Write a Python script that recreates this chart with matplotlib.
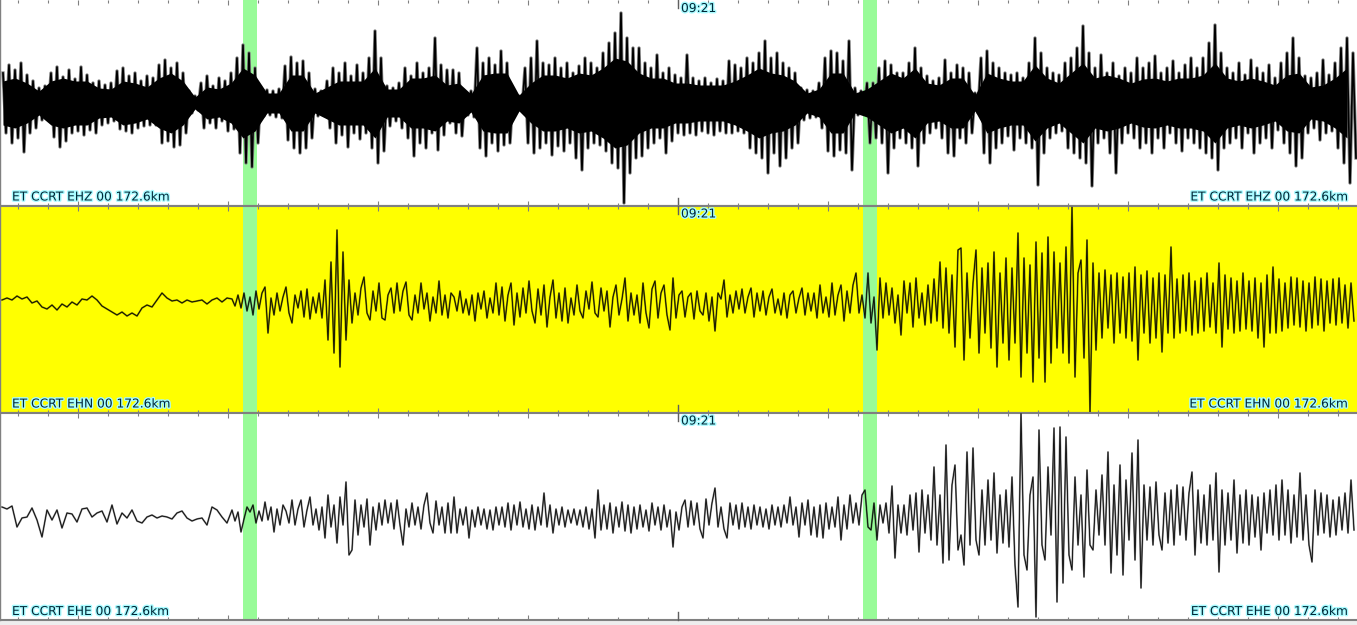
import numpy as np
import matplotlib
matplotlib.use("Agg")
import matplotlib.pyplot as plt
import matplotlib.patheffects as pe

# station / channel labels
station = "ET CCRT {} 00 172.6km"
channels = ["EHZ", "EHN", "EHE"]
minute_label = "09:21"

# pick windows, seconds after 09:21:00
picks = [(-14.5, -14.03), (6.17, 6.63)]

# EHZ: upper and lower peak excursions, one pair every 0.2 s starting at -22.5 s
ehz_hi = [30, 38, 33, 40, 28, 22, 15, 17, 30, 36, 26, 33, 24, 36, 28, 20, 22, 18, 20, 32, 35, 27, 30, 22, 27,
          25, 38, 43, 35, 40, 30, 12, 7, 20, 27, 17, 25, 22, 30, 45, 58, 50, 35, 15, 13, 12, 14, 37, 46, 40,
          42, 30, 14, 12, 22, 35, 30, 40, 27, 38, 30, 45, 72, 45, 17, 15, 20, 35, 27, 40, 30, 35, 65, 38, 33,
          33, 30, 10, 12, 55, 40, 45, 38, 52, 40, 8, 7, 35, 45, 62, 40, 38, 45, 35, 40, 30, 37, 45, 40, 35,
          50, 60, 70, 90, 65, 55, 55, 40, 35, 48, 30, 35, 28, 25, 48, 25, 22, 25, 20, 24, 22, 42, 38, 35, 45,
          40, 50, 62, 45, 50, 40, 35, 30, 15, 13, 12, 20, 45, 52, 50, 42, 62, 15, 12, 20, 20, 35, 42, 38, 30,
          30, 40, 55, 35, 27, 22, 25, 43, 30, 38, 35, 30, 10, 45, 52, 40, 35, 30, 28, 30, 25, 40, 65, 50, 35,
          30, 28, 40, 45, 55, 77, 50, 35, 48, 30, 40, 27, 35, 30, 45, 35, 40, 47, 30, 35, 42, 30, 38, 45, 35,
          45, 60, 78, 50, 35, 30, 40, 28, 43, 35, 30, 38, 25, 40, 50, 65, 45, 27, 25, 30, 43, 28, 40, 55, 65,
          50]
ehz_lo = [30, 40, 35, 49, 30, 25, 17, 15, 34, 44, 38, 30, 28, 32, 27, 30, 22, 20, 18, 26, 28, 30, 25, 23, 22,
          22, 40, 38, 44, 42, 30, 10, 7, 25, 20, 25, 18, 28, 26, 50, 60, 64, 40, 13, 12, 14, 15, 37, 45, 50,
          45, 35, 13, 12, 25, 40, 32, 44, 30, 36, 30, 45, 60, 48, 23, 18, 25, 35, 53, 40, 45, 30, 47, 32, 20,
          30, 33, 12, 14, 45, 53, 40, 48, 42, 40, 8, 7, 40, 50, 45, 40, 52, 43, 48, 40, 55, 67, 45, 40, 42,
          48, 60, 65, 100, 70, 55, 53, 45, 40, 35, 50, 38, 30, 32, 30, 32, 28, 30, 32, 28, 30, 30, 28, 30, 45,
          50, 55, 70, 50, 63, 55, 45, 40, 17, 15, 14, 25, 48, 53, 47, 50, 67, 12, 10, 40, 35, 40, 70, 45, 35,
          40, 45, 63, 40, 30, 25, 35, 50, 53, 35, 40, 30, 10, 50, 60, 45, 40, 33, 47, 35, 40, 45, 82, 50, 35,
          30, 28, 45, 50, 55, 60, 83, 40, 35, 50, 70, 40, 30, 35, 45, 40, 50, 35, 45, 30, 40, 48, 35, 40, 45,
          50, 55, 67, 45, 40, 35, 45, 30, 50, 40, 35, 45, 27, 40, 50, 63, 55, 30, 25, 37, 30, 28, 45, 60, 80,
          55]
# EHZ: half width of the solid black core, every 0.4 s starting at -22.5 s
ehz_core = [22, 25, 20, 12, 22, 25, 22, 22, 15, 14, 22, 20, 16,
            25, 30, 22, 6, 16, 14, 20, 35, 28, 10, 10, 28, 28,
            10, 16, 22, 22, 22, 35, 14, 14, 25, 25, 28, 18, 20,
            9, 28, 30, 30, 8, 20, 28, 28, 25, 30, 28, 35, 45,
            42, 30, 25, 25, 20, 20, 18, 18, 18, 22, 28, 35, 30,
            28, 22, 10, 14, 30, 30, 10, 14, 22, 30, 25, 35, 20,
            18, 25, 25, 8, 30, 25, 22, 22, 38, 25, 20, 30, 40,
            25, 28, 25, 20, 24, 25, 22, 25, 25, 28, 40, 25, 22,
            25, 22, 18, 28, 30, 16, 18, 25, 35]

# EHN: slow part, every 1/6 s from -22.53 s
ehn_slow = [3, 5, 3, 7, 4, 6, 0, 2, -4, -6, -2, -7, -1, -4, 1, -2, 4, 3, 7, 3,
            -3, -6, -9, -12, -9, -13, -10, -13, -5, -2, -4, 3, 10, 5, 2, 3, 0, 3, 1, 2,
            3, -1, 3, 5, 1, 5]
# EHN: every 0.1 s from -14.87 s
ehn_fast = [4, -3, 8, -5, 10, -8, 6, -12, 12, -6, 10,
            16, -30, 5, -12, 10, -8, 6, 16, -10, -20, 8, -5, 12, -14, 14, -16, 6, -10, 10, -15,
            23, -37, 41, -50, 73, -64, 51, -37, 23,
            -20, 10, -12, 15, 26, -10, -17, 12, -8, 20, -15, -17, 8, 15, -10, 20, -8, 12, 21, -12,
            -17, 8, -10, 20, -6, 10, -18, 6, -10, 22, -12, 8, -15, 10,
            6, -8, 12, -10, 4, -12, 8, -18, 10, -6,
            12, -15, 5, -10, 20, -12, 16, -18, 8, 20,
            -22, 10, -14, 15, -10, 22, -8, -20, 14, -12,
            18, -24, 6, 23, -15, 10, -18, 15, -20, 5,
            -12, 18, -8, -15, 12, -6, 21, -10, -14, 15,
            -8, 12, -24, 6, 18, -12, 4, 25, -18, 10,
            -12, 8, -20, 20, -10, -25, 14, 22, -15, 10,
            18, -12, -27, 25, -15, 8, 12, -14, 6, 10,
            -16, 12, -8, -12, 10, -18, 6, -28, 10, 4,
            23, -14, 8, -10, 12, -6, 14, -10, 6, 15,
            -14, 10, -8, 12, -12, 6, 14, -10, 4, -12,
            10, -15, 8, 12, -10, 5, 15, -12, 10, -8,
            10, -15, 18, -10, 6, -14, 20, -12, 8, 18,
            -18, 12, -10, 18,
            30, -10, 8, -15, 30, -20, 6, -47, 25, -15,
            20, -12, 15, -20, 8, -32, 22, -10, 20, -24,
            25, -15, 10, -22, 18, -20, 24, -18, 41, -25,
            35, -30, 28, -44, 53, 55, -57, 30, -35, 20,
            53, -50, 35, -30, 40, -45, 51, -64, 30, -40,
            45, -57, 35, -40, 70, -74, 45, -50, 38, -79,
            61, -55, 50, -79, 66, -60, 51, -45, 40, -50,
            56, -60, 96, -74, 30, 43, -55, 63, -109, 40,
            -47, 30, -35, 33, -25, 28, -40, 30, -30, 26,
            -35, 30, -38, 36, -57, 28, -30, 32, -40, 25,
            -35, 30, -49, 28, -30, 56, -35, 24, -30, 28,
            -28, 30, -32, 22, -30, 25, -28, 30, -24, 20,
            -30, 40, -44, 28, -26, 25, -30, 22, -28, 30,
            -26, 22, -28, 25, -35, 20, -44, 28, -30, 36,
            -30, 24, -28, 20, -25, 26, -22, 25, -24, 22,
            -28, 20, -25, 26, -22, 24, -28, 22, -20, 24,
            -22, 25, -20, 18, -25, 20, -18]

# EHE: slow part, every 1/6 s from -22.53 s
ehe_slow = [8, 6, 9, -12, -3, -2, 7, -5, -22, 5, -5, 5, -13, 2, 1, -7, 6, 7, -2, 2,
            4, -7, 10, -9, 2, -3, 5, -6, -8, -2, 0, -3, -1, -2, -4, 2, 4, -3, -6, -4,
            -3, -10, 8, 5, -2, -8]
# EHE: every 0.1 s from -14.87 s
ehe_fast = [5, -6, 3, -17, -4, 8, 3, 10, -8, 4, -6,
            13, -5, 8, -17, 6, -10, 10, 4, -8, 15, -10, 6, 15, -12, 5, 18, -10, 6, -15, 8,
            -23, 20, -12, 10, -28, 18, -10, 33, -40,
            -35, 15, -20, 10, -12, 16, -30, 8, -15, 12, -10, 15, -8, 12, -14, 15, -10, -30, 6, -12,
            12, -10, 8, -14, 10, 22, -8, -18, 14, -10, 8, -18, 12, -18,
            18, -18, 6, -10, 8, -23, 5, -12, 8, -10,
            6, -14, 5, -15, 8, -10, 8, -12, 12, -15,
            10, -10, 13, -12, 6, -14, 10, -15, 8, -10,
            22, -12, 10, -18, 6, -10, 8, -12, 5, -8,
            6, -10, 5, -12, 8, -14, 6, -23, 25, -15,
            10, -14, 12, -18, 8, -12, 13, -16, 10, -18,
            8, -14, 10, -12, 5, -16, 12, -10, 8, -15,
            10, -12, 5, -32, 3, -15, 8, 15, -12, 14,
            -10, 12, -14, -23, 16, -10, 12, 27, -12, 8,
            -14, -23, 12, -10, 10, -14, 12, -12, 8, -14,
            10, -10, 8, -12, 6, -14, 10, -10, 8, -12,
            10, -8, 18, -10, 8, -22, 12, -10, 15, -20,
            8, -22, 10, -23, 12, -14, 8, -12, 18, -25,
            10, -14, 20, -8,
            12, -10, 20, 25, -12, -15, 12, -25, 10, -8,
            12, -18, 29, -43, 10, -18, 10, -20, 20, -15,
            22, -37, 25, -18, 20, -25, 48, -30, 20, -48,
            70, -45, 30, 50, -35, -20, -50, 63, -30, 67,
            -25, -40, 25, -30, 35, -25, 42, -38, 20, -28,
            25, -32, 38, -50, -92, 102, -40, -55, 20, 38,
            -102, 85, -30, -45, 48, -20, 87, -87, 88, -68,
            78, -40, -55, 38, -30, 20, -62, 45, -30, -35,
            25, -20, 40, -30, 63, -58, 30, -40, 50, -60,
            35, -25, 62, -45, 75, -73, 30, -25, 28, -30,
            33, -20, -35, 22, -28, 25, -30, 30, -20, 28,
            -25, 22, 43, -40, 25, -28, 20, -30, 30, -25,
            42, -57, 25, -30, 22, -25, 35, -38, 20, -28,
            25, -30, 20, -22, 18, -35, 22, -18, 25, -20,
            30, -25, 35, -20, 25, -28, 20, -22, 42, -25,
            20, -30, -47, 25, -20, 22, -18, 20, -22, 15,
            -20, 18, -15, 22, -18, 35, -15]

W, H = 1357, 625
PX_PER_S = 30.0
T_ZERO_PX = 678

fig = plt.figure(figsize=(W / 100, H / 100), dpi=100, facecolor="#eeeeee")
x_lo_s = -T_ZERO_PX / PX_PER_S
x_hi_s = (W - T_ZERO_PX) / PX_PER_S

# panel top, panel bottom, trace baseline (pixels from top)
panels = [(0, 205.5, 103), (205.5, 412.5, 303), (412.5, 620, 515)]
faces = ["white", "#ffff00", "white"]
grey = "#808080"
halo = [pe.withStroke(linewidth=2.0, foreground="#a8fbff")]
txt_col = "#002838"

axes = []
for (top, bot, base), face in zip(panels, faces):
    ax = fig.add_axes([0, (H - bot) / H, 1, (bot - top) / H])
    ax.set_xlim(x_lo_s, x_hi_s)
    ax.set_ylim(-(bot - base), base - top)
    ax.set_facecolor(face)
    ax.set_yticks([])
    ax.set_xticks(np.arange(-20, 21, 5))
    ax.set_xticks(np.arange(-22, 23, 1), minor=True)
    ax.tick_params(which="both", direction="in", top=True, bottom=True,
                   labelbottom=False, labeltop=False, color=grey, width=0.8)
    ax.tick_params(which="major", length=3.5)
    ax.tick_params(which="minor", length=2)
    for side in ["top", "bottom"]:
        ax.spines[side].set_color(grey)
        ax.spines[side].set_linewidth(1.5)
    ax.spines["left"].set_color(grey)
    ax.spines["left"].set_linewidth(1.0)
    ax.spines["right"].set_visible(False)
    # minute mark
    ph = bot - top
    tr = ax.get_xaxis_transform()
    ax.plot([0, 0], [0, 8 / ph], transform=tr, color="#606060", lw=1.0, clip_on=False, zorder=6)
    ax.plot([0, 0], [1 - 8 / ph, 1], transform=tr, color="#606060", lw=1.0, clip_on=False, zorder=6)
    for a, b in picks:
        ax.axvspan(a, b, color="#98fb98", lw=0, zorder=1)
    axes.append(ax)
axes[0].spines["top"].set_visible(False)

# EHZ trace: zigzag through the peaks plus dense core
t_hi = -22.5 + 0.2 * np.arange(len(ehz_hi))
t_z = np.ravel(np.column_stack([t_hi, t_hi + 0.1]))
y_z = np.ravel(np.column_stack([ehz_hi, -np.array(ehz_lo)]))
t_core = -22.5 + 0.4 * np.arange(len(ehz_core))
core = np.array(ehz_core)
axes[0].plot(t_z, y_z, color="#808080", lw=2.4, zorder=2)
axes[0].plot(t_z, y_z, color="k", lw=1.2, zorder=3)
axes[0].fill_between(t_core, -core, core, color="k", lw=0, zorder=3)

# EHN and EHE traces
for ax, slow, fast in [(axes[1], ehn_slow, ehn_fast), (axes[2], ehe_slow, ehe_fast)]:
    t_slow = (2 - T_ZERO_PX) / PX_PER_S + np.arange(len(slow)) / 6.0
    t_fast = (232 - T_ZERO_PX) / PX_PER_S + np.arange(len(fast)) * 0.1
    t = np.concatenate([t_slow, t_fast])
    vals = np.concatenate([slow, fast])
    ax.plot(t, vals, color="k", alpha=0.5, lw=1.3, zorder=2)
    ax.plot(t, vals, color="k", lw=0.55, zorder=3)

# labels
for ax, ch, (top, bot, base) in zip(axes, channels, panels):
    ph = bot - top
    lab = station.format(ch)
    ax.text(12 / W, 2 / ph, lab, transform=ax.transAxes, fontsize=8.8, color=txt_col,
            ha="left", va="bottom", path_effects=halo, zorder=7)
    ax.text(1348 / W, 2 / ph, lab, transform=ax.transAxes, fontsize=8.8, color=txt_col,
            ha="right", va="bottom", path_effects=halo, zorder=7)
    ax.text(681 / W, 1 - 2 / ph, minute_label, transform=ax.transAxes, fontsize=8.8,
            color=txt_col, ha="left", va="top", path_effects=halo, zorder=7)

fig.savefig("out.png", dpi=100, facecolor=fig.get_facecolor())
